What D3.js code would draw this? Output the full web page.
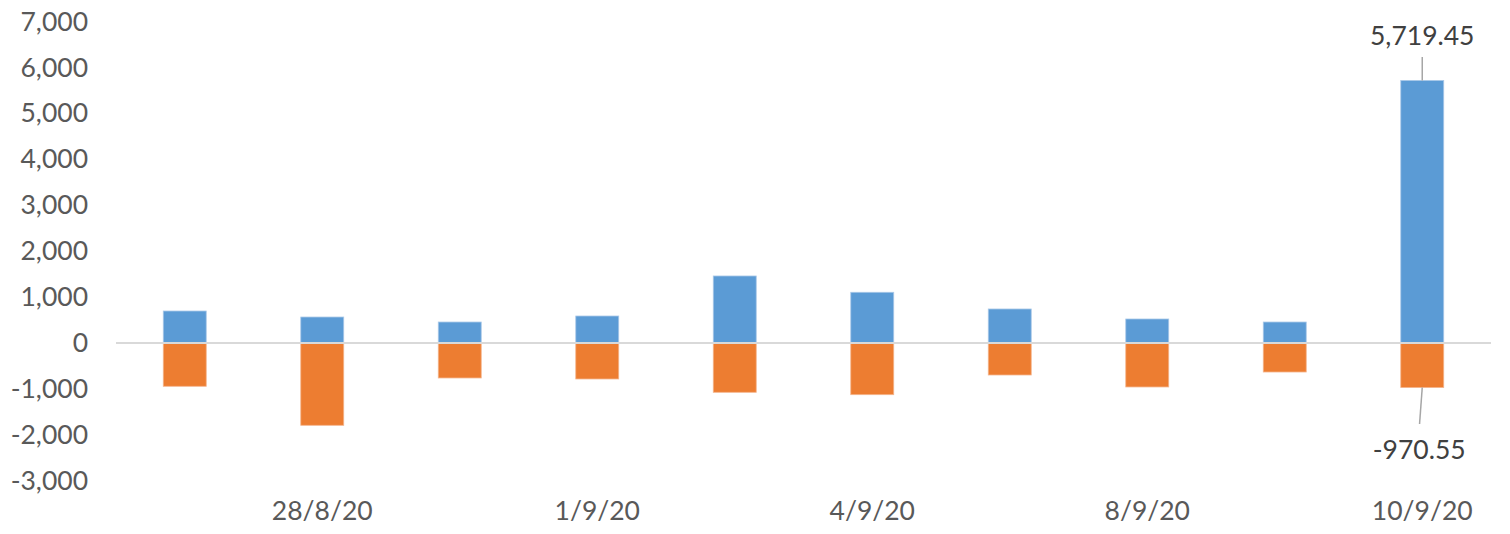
<!DOCTYPE html>
<html>
<head>
<meta charset="utf-8">
<script src="https://cdn.jsdelivr.net/npm/d3@7"></script>
<style>
  body { margin: 0; background: #fff; }
  text { font-family: Lato, "Open Sans", sans-serif; }
</style>
</head>
<body>
<div id="chart"></div>
<script>
const categories = ["27/8/20", "28/8/20", "31/8/20", "1/9/20", "3/9/20",
                    "4/9/20", "7/9/20", "8/9/20", "9/9/20", "10/9/20"];
const inflow = [697, 566, 457, 588, 1460, 1105, 741, 523, 457, 5719.45];
const outflow = [-943, -1793, -762, -784, -1074, -1126, -697, -958, -632, -970.55];
const yTicks = [-3000, -2000, -1000, 0, 1000, 2000, 3000, 4000, 5000, 6000, 7000];

const width = 1510, height = 534;
const left = 116, right = 1491;

// hyphen instead of unicode minus, like the original
const locale = d3.formatLocale({decimal: ".", thousands: ",", grouping: [3], currency: ["", ""], minus: "-"});

const svg = d3.select("#chart").append("svg")
  .attr("width", width)
  .attr("height", height);

const x = d3.scaleBand()
  .domain(categories)
  .range([left, right])
  .paddingInner(0.6875)
  .paddingOuter(0.34375);

const y = d3.scaleLinear()
  .domain([-3000, 7000])
  .range([480.7, 21.7]);

// y axis labels
const yAxis = svg.append("g")
  .attr("transform", "translate(96,0)")
  .call(d3.axisLeft(y).tickValues(yTicks).tickSize(0).tickPadding(8)
    .tickFormat(locale.format(",")));
yAxis.select(".domain").remove();
yAxis.selectAll("text")
  .attr("fill", "#595959")
  .style("font-size", "26.5px");

// bars
svg.append("g").selectAll("rect")
  .data(inflow)
  .join("rect")
  .attr("x", (d, i) => x(categories[i]))
  .attr("width", x.bandwidth())
  .attr("y", d => y(d))
  .attr("height", d => y(0) - y(d))
  .attr("fill", "#5b9bd5")
  .attr("stroke", "#a9c8e8")
  .attr("stroke-width", 0.8);

svg.append("g").selectAll("rect")
  .data(outflow)
  .join("rect")
  .attr("x", (d, i) => x(categories[i]))
  .attr("width", x.bandwidth())
  .attr("y", y(0))
  .attr("height", d => y(d) - y(0))
  .attr("fill", "#ed7d31")
  .attr("stroke", "#f4b48c")
  .attr("stroke-width", 0.8);

// zero line
svg.append("line")
  .attr("x1", left).attr("x2", right)
  .attr("y1", y(0)).attr("y2", y(0))
  .attr("stroke", "#d9d9d9")
  .attr("stroke-width", 2);

// category labels, every other one
const xAxis = svg.append("g")
  .attr("transform", "translate(0,501)")
  .call(d3.axisBottom(x).tickSize(0).tickPadding(0)
    .tickValues(categories.filter((d, i) => i % 2 === 1)));
xAxis.select(".domain").remove();
xAxis.selectAll("text")
  .attr("fill", "#595959")
  .attr("dy", "0.71em")
  .style("font-size", "26.5px");

// data labels on the last bar
const last = categories.length - 1;
const cx = x(categories[last]) + x.bandwidth() / 2;
const fmt = locale.format(",.2f");

svg.append("line")
  .attr("x1", cx).attr("x2", cx)
  .attr("y1", y(inflow[last])).attr("y2", 57)
  .attr("stroke", "#a6a6a6").attr("stroke-width", 1.5);
svg.append("text")
  .attr("x", cx).attr("y", 36)
  .attr("text-anchor", "middle")
  .attr("dy", "0.35em")
  .attr("fill", "#404040")
  .style("font-size", "26.5px")
  .text(fmt(inflow[last]));

svg.append("line")
  .attr("x1", cx).attr("x2", cx - 2.7)
  .attr("y1", y(outflow[last])).attr("y2", 424)
  .attr("stroke", "#a6a6a6").attr("stroke-width", 1.5);
svg.append("text")
  .attr("x", cx - 3).attr("y", 450)
  .attr("text-anchor", "middle")
  .attr("dy", "0.35em")
  .attr("fill", "#404040")
  .style("font-size", "26.5px")
  .text(fmt(outflow[last]));
</script>
</body>
</html>
